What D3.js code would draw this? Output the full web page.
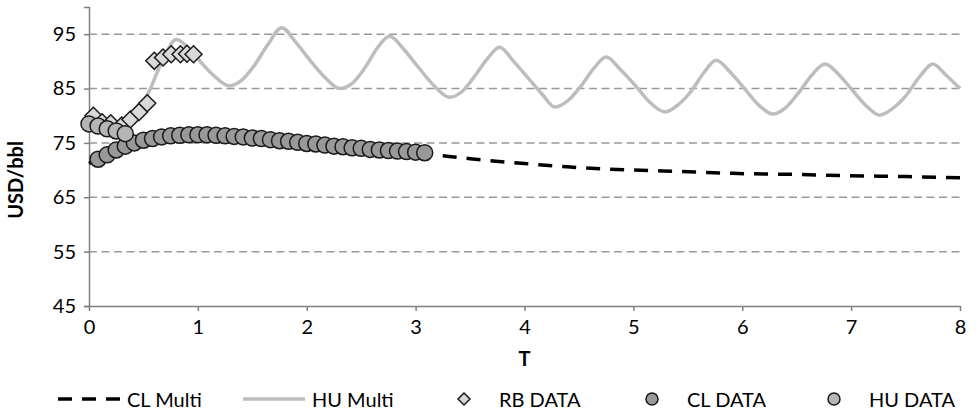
<!DOCTYPE html>
<html>
<head>
<meta charset="utf-8">
<script src="https://cdn.jsdelivr.net/npm/d3@7"></script>
<style>
  body { margin: 0; background: #fff; }
  svg text { font-family: Lato, "Open Sans", sans-serif; fill: #000; }
</style>
</head>
<body>
<div id="chart"></div>
<script>
// Dimensions
var width = 976
var height = 412

// Axes
const yTicks = [45, 55, 65, 75, 85, 95]
const xTicks = [0, 1, 2, 3, 4, 5, 6, 7, 8]

// HU Multi (courbe grise)
const huMultiT = [0, 0.17, 0.3, 0.35, 0.46, 0.565, 0.61, 0.7, 0.8, 0.93, 1.03, 1.14, 1.29,
  1.4, 1.52, 1.64, 1.77, 1.9, 2.03, 2.17, 2.3,
  2.42, 2.54, 2.65, 2.76, 2.9, 3.03, 3.17, 3.31,
  3.43, 3.55, 3.66, 3.77, 3.9, 4.03, 4.16, 4.28,
  4.4, 4.52, 4.64, 4.75, 4.88, 5.02, 5.15, 5.29,
  5.41, 5.53, 5.65, 5.76, 5.89, 6.02, 6.15, 6.28,
  6.4, 6.52, 6.64, 6.76, 6.89, 7.02, 7.14, 7.26,
  7.38, 7.5, 7.63, 7.75, 7.87, 8]
const huMultiV = [78.5, 77.6, 78.0, 78.6, 81.4, 85, 87.2, 91.2, 94.0, 92.1, 89.8, 87.5, 85.5,
  86.5, 89.3, 93, 96.2, 93.5, 90.2, 87, 85.0,
  86, 89, 92.5, 94.6, 92, 88.8, 85.5, 83.4,
  84.5, 87.5, 90.5, 92.6, 90, 87, 84, 81.6,
  82.8, 85.5, 88.8, 90.8, 88.5, 85.5, 82.5, 80.7,
  82, 84.5, 88, 90.2, 88, 85, 82, 80.3,
  81.5, 84.3, 87.5, 89.5, 87.5, 84.5, 81.8, 80.1,
  81.3, 83.6, 87.2, 89.5, 87.5, 85.0]

// CL Multi (pointillés noirs)
const clMultiT = [0, 0.25, 0.5, 0.75, 1.0, 1.5, 2.0, 2.5, 3.0, 3.19, 3.5, 4.0, 4.39, 5.0, 5.5, 5.91, 6.5, 6.92, 7.51, 8]
const clMultiV = [71.2, 73.9, 75.3, 76.1, 76.5, 76.2, 75.3, 74.3, 73.4, 72.8, 72.1, 71.2, 70.6, 70.0, 69.7, 69.4, 69.2, 69.0, 68.8, 68.6]

// RB DATA (losanges)
const rbT = [0.04, 0.12, 0.2, 0.3, 0.38, 0.46, 0.535, 0.6, 0.68, 0.755, 0.84, 0.9, 0.96]
const rbV = [80, 78.8, 78.6, 78.2, 79.3, 80.7, 82.3, 90.1, 90.7, 91.3, 91.3, 91.4, 91.3]

// CL DATA (cercles gris foncé, mensuels)
const clDataT = d3.range(1, 38).map(k => k / 12)
const clDataV = [72.0, 72.8, 73.7, 74.4, 75.0, 75.5, 75.8, 76.1, 76.3, 76.4, 76.5, 76.5,
  76.5, 76.4, 76.3, 76.2, 76.1, 75.9, 75.8, 75.6, 75.4, 75.3, 75.1, 74.9, 74.8,
  74.6, 74.4, 74.3, 74.1, 74.0, 73.8, 73.7, 73.6, 73.5, 73.4, 73.3, 73.2]

// HU DATA (cercles gris clair)
const huDataT = [0, 0.083, 0.167, 0.25, 0.333]
const huDataV = [78.5, 78.1, 77.6, 77.2, 76.7]

// Légende
const legendKeys = ["CL Multi", "HU Multi", "RB DATA", "CL DATA", "HU DATA"]

const svg = d3.select("#chart")
  .append("svg")
    .attr("width", width)
    .attr("height", height)

const x = d3.scaleLinear().domain([0, 8]).range([89, 960])
const y = d3.scaleLinear().domain([45, 100]).range([306, 7])

// Grille horizontale
svg.append("g")
  .selectAll("line")
  .data(yTicks.filter(d => d > 45))
  .join("line")
    .attr("x1", x(0))
    .attr("x2", x(8))
    .attr("y1", d => y(d))
    .attr("y2", d => y(d))
    .attr("stroke", "#999")
    .attr("stroke-width", 1.5)
    .attr("stroke-dasharray", "8,4.5")

// Axe Y
const yAxis = svg.append("g")
  .attr("transform", "translate(" + x(0) + ",0)")
  .call(d3.axisLeft(y).tickValues(yTicks).tickSize(5).tickPadding(8))
yAxis.select(".domain").attr("stroke", "#808080").attr("stroke-width", 1.5)
yAxis.selectAll(".tick line").attr("stroke", "#808080").attr("stroke-width", 1.5)
yAxis.selectAll(".tick text").style("font-size", "20px").attr("fill", "#000")

// Axe X
const xAxis = svg.append("g")
  .attr("transform", "translate(0," + y(45) + ")")
  .call(d3.axisBottom(x).tickValues(xTicks).tickSize(5).tickPadding(9).tickSizeOuter(0))
xAxis.select(".domain").attr("stroke", "#808080").attr("stroke-width", 1.5)
xAxis.selectAll(".tick line").attr("stroke", "#808080").attr("stroke-width", 1.5)
xAxis.selectAll(".tick text").style("font-size", "20px").attr("fill", "#000")

// Titres des axes
svg.append("text")
  .attr("x", x(4))
  .attr("y", 366)
  .attr("text-anchor", "middle")
  .style("font-size", "20px")
  .style("font-weight", "bold")
  .text("T")

svg.append("text")
  .attr("transform", "translate(23,180) rotate(-90)")
  .attr("text-anchor", "middle")
  .style("font-size", "20px")
  .style("font-weight", "bold")
  .text("USD/bbl")

// Courbes
const line = d3.line()
  .x(d => x(d[0]))
  .y(d => y(d[1]))
  .curve(d3.curveMonotoneX)

svg.append("path")
  .datum(d3.zip(clMultiT, clMultiV))
  .attr("d", line)
  .attr("fill", "none")
  .attr("stroke", "#000")
  .attr("stroke-width", 3.5)
  .attr("stroke-dasharray", "14,10")

svg.append("path")
  .datum(d3.zip(huMultiT, huMultiV))
  .attr("d", line)
  .attr("fill", "none")
  .attr("stroke", "#bdbdbd")
  .attr("stroke-width", 3.5)

// Losanges RB
const diamond = function(h) {
  return "M0," + (-h) + "L" + h + ",0L0," + h + "L" + (-h) + ",0Z"
}

svg.append("g")
  .selectAll("path")
  .data(d3.zip(rbT, rbV))
  .join("path")
    .attr("transform", d => "translate(" + x(d[0]) + "," + y(d[1]) + ")")
    .attr("d", diamond(8.5))
    .attr("fill", "#d9d9d9")
    .attr("stroke", "#1a1a1a")
    .attr("stroke-width", 1.5)

// Cercles CL et HU
svg.append("g")
  .selectAll("circle")
  .data(d3.zip(clDataT, clDataV))
  .join("circle")
    .attr("cx", d => x(d[0]))
    .attr("cy", d => y(d[1]))
    .attr("r", 8)
    .attr("fill", "#999")
    .attr("stroke", "#1a1a1a")
    .attr("stroke-width", 1.5)

svg.append("g")
  .selectAll("circle")
  .data(d3.zip(huDataT, huDataV))
  .join("circle")
    .attr("cx", d => x(d[0]))
    .attr("cy", d => y(d[1]))
    .attr("r", 8)
    .attr("fill", "#b5b5b5")
    .attr("stroke", "#1a1a1a")
    .attr("stroke-width", 1.5)

// Légende
const leg = svg.append("g").attr("transform", "translate(0,399)")
const legX = [58, 243, 464, 652, 834]
const legTextX = [127, 312, 499, 687, 869]

leg.append("line").attr("x1", legX[0]).attr("x2", legX[0] + 62)
  .attr("stroke", "#000").attr("stroke-width", 3.5).attr("stroke-dasharray", "14,10")
leg.append("line").attr("x1", legX[1]).attr("x2", legX[1] + 62)
  .attr("stroke", "#bdbdbd").attr("stroke-width", 3.5)
leg.append("path").attr("transform", "translate(" + legX[2] + ",0)").attr("d", diamond(6))
  .attr("fill", "#d9d9d9").attr("stroke", "#1a1a1a").attr("stroke-width", 1.5)
leg.append("circle").attr("cx", legX[3]).attr("r", 6)
  .attr("fill", "#999").attr("stroke", "#1a1a1a").attr("stroke-width", 1.5)
leg.append("circle").attr("cx", legX[4]).attr("r", 6)
  .attr("fill", "#b5b5b5").attr("stroke", "#1a1a1a").attr("stroke-width", 1.5)

leg.selectAll("text")
  .data(legendKeys)
  .join("text")
    .attr("x", (d, i) => legTextX[i])
    .attr("y", 8)
    .style("font-size", "20px")
    .text(d => d)
</script>
</body>
</html>
